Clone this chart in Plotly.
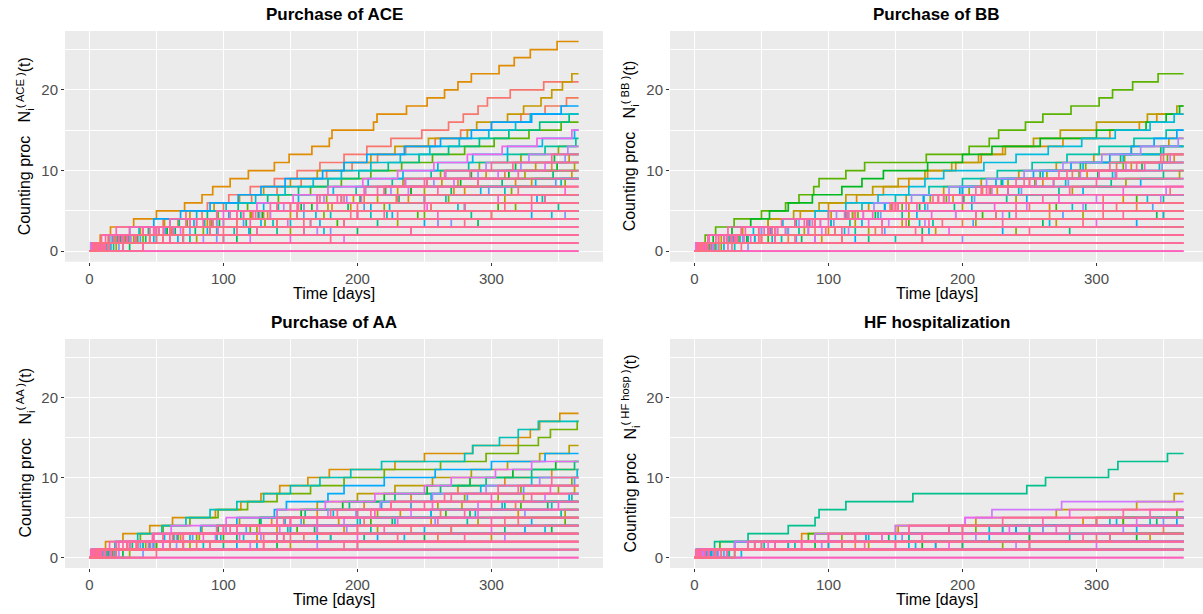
import math
import plotly.graph_objects as go

# ---------------- data ----------------
panel_titles = ["Purchase of ACE", "Purchase of BB", "Purchase of AA", "HF hospitalization"]
process_labels = ["ACE", "BB", "AA", "HF hosp"]
x_tick_vals = [0, 100, 200, 300]
y_tick_vals = [0, 10, 20]
follow_up_end = 365

# event times (days) for each individual, ACE purchases
ace_events = [
    [6, 22, 40, 55, 72, 88, 104, 120, 138, 155, 172, 190, 207, 225, 248, 268, 279, 290, 297, 314, 339],
    [10, 28, 45, 66, 84, 100, 121, 140, 158, 177, 196, 215, 236, 258, 277, 300, 322, 340, 356],
    [3, 30, 61, 95, 130, 170, 205, 240, 275, 310, 345],
    [1, 14, 48, 90, 133, 181, 229, 272, 318],
    [2, 8, 15.7, 33, 50, 71, 84, 92, 105, 118.6, 138, 149, 166, 179, 181, 212, 214.6, 236.6, 252, 265, 275, 285, 305.7, 317, 329, 349],
    [8, 35, 70, 110, 150, 195, 238, 280, 330, 360],
    [2, 19, 52, 88, 121, 160, 197, 230, 263, 296, 333, 358],
    [4, 20, 38, 56, 75, 93, 112, 130, 150, 170, 190, 210, 228, 253, 282, 289, 312, 324, 337, 345, 353, 360],
    [12, 45, 90, 140, 200, 255, 310],
    [5, 25, 60, 100, 135, 178, 215, 250, 290, 325, 362],
    [20, 80, 150, 230, 300],
    [7, 33, 62, 91, 120, 150, 177, 206, 234, 262, 291, 322, 350],
    [2, 40, 85, 131, 175, 220, 268, 315, 355],
    [15, 70, 125, 190, 250, 318],
    [9, 27, 50, 73, 96, 118, 141, 165, 188, 210, 233, 256, 280, 302, 328, 352],
    [4, 60, 120, 185, 245, 305],
    [1, 23, 58, 92, 129, 166, 202, 240, 277, 313, 349],
    [11, 36, 64, 97, 126, 158, 188, 221, 252, 285, 318, 347],
    [30, 110, 200, 290],
    [6, 42, 79, 117, 155, 193, 231, 270, 308, 346],
    [3, 21, 44, 67, 88, 111, 133, 156, 178, 201, 223, 246, 268, 291, 313, 336, 358],
    [18, 75, 140, 215, 285, 350],
    [8, 29, 57, 86, 113, 141, 170, 199, 226, 255, 283, 312, 340, 363],
    [2, 55, 108, 165, 222, 280, 338],
    [13, 50, 95, 137, 180, 224, 266, 310, 352],
    [5, 30, 90, 150, 210, 275, 340],
    [1, 17, 37, 60, 80, 102, 124, 146, 167, 188, 210, 232, 254, 276, 298, 318, 329],
    [25, 100, 175, 260, 345],
    [9, 48, 88, 128, 169, 210, 250, 292, 333],
    [4, 26, 52, 78, 104, 130, 156, 182, 208, 234, 260, 286, 312, 338, 362],
    [16, 66, 119, 172, 226, 280, 334],
    [7, 70, 160, 250, 330],
    [3, 15, 30, 48, 68, 90, 111, 128, 146, 174, 190, 207, 235, 262, 285, 300, 330, 352],
    [10, 38, 75, 115, 160, 205, 250, 298, 348],
    [22, 95, 180, 270, 355],
    [3, 31, 63, 95, 127, 160, 192, 225, 257, 290, 322, 355],
    [6, 85, 170, 260],
    [1, 28, 56, 85, 115, 145, 175, 206, 236, 266, 296, 328, 357],
    [14, 120, 240],
    [5, 35, 68, 100, 135, 170, 203, 238, 272, 305, 340],
    [40, 190],
    [2, 24, 49, 75, 100, 125, 152, 178, 204, 230, 257, 282, 308, 334, 360],
    [8, 150],
    [3, 45, 96, 148, 200, 252, 305, 355],
    [11],
    [4, 60, 125, 190, 260, 330],
    [],
    [7, 55, 110, 165, 220, 280, 340],
]
# individuals drawn last (pink end of the palette), ACE
ace_late = [
    [],
    [3],
    [5, 12],
    [2, 9, 20],
    [4, 15, 30, 120],
    [6, 18, 40, 60, 200],
    [3, 20, 45, 72, 95, 250],
    [8, 25, 50, 80, 110, 140, 230],
    [2, 22, 48, 75, 105, 135, 170, 260],
    [5, 28, 55, 85, 115, 150, 185, 215, 290],
    [7, 30, 60, 90, 122, 155, 190, 220, 250, 320],
    [3, 26, 52, 80, 110, 140, 172, 205, 235, 265, 300],
    [9, 34, 62, 92, 124, 156, 188, 220, 252, 284, 316, 345],
    [40],
    [15, 180],
    [25, 100, 240],
    [10, 70, 160, 280],
    [12, 55, 110, 190, 300],
    [6, 50, 100, 160, 230, 310],
    [14, 45, 90, 140, 195, 255, 330],
    [4, 35, 70, 110, 155, 200, 250, 320],
]

# BB purchases
bb_events = [
    [5, 40, 90, 140, 195, 250, 305, 355],
    [2, 25, 55, 85, 118, 150, 182, 215, 250, 282, 315, 350],
    [12, 70, 135, 200, 265, 330],
    [4, 30, 62, 94, 126, 160, 193, 226, 260, 293, 326, 358],
    [3, 18, 35, 55, 79, 100, 121, 141, 160, 174, 195, 214, 230, 275, 310, 332, 345],
    [8, 50, 100, 155, 210, 265, 320],
    [1, 22, 48, 75, 102, 130, 158, 186, 214, 242, 270, 298, 326, 354],
    [15, 95, 180, 270, 350],
    [6, 20, 36, 55, 74, 93, 113, 133, 152, 172, 192, 212, 232, 253, 273, 300, 338, 360],
    [10, 45, 82, 120, 160, 200, 240, 282, 322, 362],
    [3, 60, 130, 210, 290],
    [7, 33, 60, 90, 118, 147, 176, 205, 234, 263, 292, 321, 350],
    [20, 110, 240],
    [2, 28, 58, 90, 122, 155, 188, 221, 254, 287, 320, 353],
    [2, 8, 15.8, 29.6, 50, 68, 78, 89, 93, 113, 127, 173, 205, 220, 227, 247, 260, 281, 302, 312, 327, 346],
    [9, 55, 105, 160, 215, 270, 330],
    [4, 14, 28, 42, 56, 70, 88, 110, 125, 141, 174, 200, 222, 258, 300, 337, 352, 362],
    [11, 39, 70, 102, 135, 168, 201, 234, 268, 301, 334],
    [1, 80, 170, 260, 345],
    [6, 30, 57, 85, 113, 142, 171, 200, 229, 258, 288, 318, 348],
    [18, 130, 280],
    [3, 40, 78, 116, 155, 194, 233, 272, 311, 350],
    [13, 65, 120, 178, 235, 292, 350],
    [5, 26, 50, 76, 100, 125, 150, 175, 200, 226, 252, 278, 302, 328, 352],
    [30, 150],
    [2, 34, 68, 102, 137, 172, 207, 242, 277, 312, 347],
    [9, 58, 112, 168, 225, 282, 338],
    [4, 22, 44, 66, 90, 113, 137, 160, 172, 186, 216, 240, 264, 289, 314, 340, 358],
    [16, 90, 175, 265, 350],
    [1, 27, 55, 84, 113, 142, 171, 200, 230, 260, 290, 320, 350],
    [7, 45, 85, 125, 166, 207, 248, 290, 333],
    [22, 120, 230, 330],
    [3, 29, 57, 86, 115, 142, 171, 198, 225, 253, 281, 310, 326, 343, 360],
    [12, 76, 142, 208, 275, 342],
    [5, 36, 70, 104, 139, 174, 209, 244, 279, 314, 349],
    [40, 200],
    [2, 24, 50, 78, 106, 134, 162, 190, 218, 246, 275, 304, 333, 361],
    [9, 60, 115, 172, 230, 290, 348],
    [4, 48, 95, 145, 195, 248, 300, 352],
    [14],
    [1, 31, 62, 94, 126, 158, 190, 222, 255, 288, 322, 355],
    [6, 90, 190, 300],
    [3, 42, 85, 130, 177, 224, 272, 320],
    [],
    [8, 37, 68, 100, 133, 166, 200, 234, 268, 302, 336],
    [25, 170],
    [2, 50, 110, 175, 240, 305],
    [10, 60, 140, 230, 320],
]
bb_late = [
    [],
    [2],
    [4, 11],
    [3, 10, 25],
    [6, 18, 35, 140],
    [2, 16, 38, 65, 210],
    [5, 22, 48, 75, 100, 240],
    [3, 24, 52, 82, 112, 150, 260],
    [7, 27, 55, 85, 115, 148, 182, 280],
    [4, 30, 58, 88, 120, 152, 186, 220, 300],
    [2, 28, 58, 90, 120, 152, 186, 218, 250, 315],
    [6, 30, 56, 84, 114, 146, 178, 210, 240, 272, 330],
    [3, 32, 60, 90, 120, 150, 182, 214, 246, 278, 310, 348],
    [35],
    [18, 170],
    [28, 110, 250],
    [12, 75, 165, 290],
    [9, 50, 105, 185, 305],
    [5, 48, 98, 158, 225, 315],
]

# AA purchases
aa_events = [
    [7, 80, 160, 240, 320],
    [3, 45, 95, 150, 205, 262, 318],
    [15, 130, 260],
    [5, 35, 68, 102, 136, 170, 205, 240, 275, 310, 345],
    [2, 60, 125, 190, 255, 320],
    [3, 12, 25, 45, 62, 94, 113, 128, 142, 163, 179, 228, 250, 286, 320, 329, 336, 351],
    [9, 50, 95, 140, 186, 232, 278, 324, 362],
    [20, 150, 300],
    [4, 28, 55, 84, 112, 140, 170, 200, 228, 256, 285, 312, 336, 358],
    [11, 75, 145, 215, 290, 355],
    [1, 40, 82, 125, 170, 215, 260, 305, 350],
    [30, 200],
    [6, 42, 80, 120, 160, 200, 240, 280, 322, 360],
    [5, 20, 38, 55, 75, 96, 118, 140, 165, 190, 220, 262, 296, 320, 335, 344, 364],
    [13, 90, 180, 270, 355],
    [2, 50, 100, 155, 210, 266, 322],
    [8, 36, 66, 96, 127, 158, 189, 220, 252, 284, 316, 348],
    [25, 140, 250, 345],
    [4, 55, 110, 168, 226, 284, 342],
    [17],
    [3, 32, 63, 95, 128, 161, 194, 228, 262, 296, 330, 362],
    [10, 100, 205, 310],
    [6, 70, 140, 210, 282, 352],
    [1, 45, 95, 148, 200, 255, 310, 360],
    [4, 19, 36, 54, 72, 90, 110, 130, 150, 172, 195, 218, 280, 286, 306, 320, 335],
    [12, 60, 115, 170, 228, 288, 345],
    [2, 85, 180],
    [7, 40, 75, 110, 146, 182, 218, 255, 292, 330, 364],
    [19, 125, 235, 340],
    [3, 48, 98, 150, 202, 255, 308, 358],
    [9, 90, 170, 250, 330],
    [5, 30, 56, 83, 110, 138, 147, 178, 190, 220, 258, 300, 340],
    [14, 110, 215, 325],
    [2, 38, 77, 117, 158, 199, 240, 282, 324, 362],
    [40],
    [6, 65, 128, 192, 258, 325],
    [1, 30, 65, 102, 140, 178, 217, 256, 296, 336],
    [22, 170, 310],
    [4, 47, 94, 142, 190, 240, 290, 340],
    [11, 120],
    [3, 20, 48, 61, 102, 140, 176, 213, 250, 270, 303, 330],
    [8, 90, 200, 300],
    [2, 55, 112, 170, 230, 290, 350],
    [],
    [5, 44, 85, 127, 170, 213, 256, 300, 344],
    [16, 200],
    [1, 70, 145, 220, 300],
    [9, 130, 280],
]
aa_late = [
    [],
    [6],
    [3, 15],
    [8, 22, 140],
    [5, 20, 47, 200],
    [2, 25, 48, 110, 260],
    [7, 30, 55, 95, 150, 280],
    [4, 28, 60, 100, 150, 210, 300],
    [9, 35, 70, 110, 150, 200, 250, 330],
    [3, 30, 62, 100, 140, 180, 225, 270, 320],
    [6, 36, 70, 105, 145, 185, 225, 265, 305, 345],
    [50],
    [20, 190],
    [12, 90, 230],
    [5, 60, 150, 270],
    [18, 70, 130, 200, 310],
]

# HF hospitalizations
hf_events = [
    [4, 150, 300],
    [10, 120, 250, 350],
    [2, 200],
    [6, 60, 140, 230, 320],
    [12, 30, 80, 152, 290],
    [3, 100],
    [25, 180, 340],
    [5, 40, 90, 150, 210, 270, 330, 358],
    [8],
    [1, 70, 160, 260],
    [15, 130],
    [4, 50, 110, 200, 300],
    [7, 230],
    [2, 45, 120, 210, 300, 360],
    [20],
    [6, 19, 85, 190, 320],
    [11, 170, 330],
    [3, 90, 250],
    [30],
    [5, 60, 145, 240, 345],
    [13, 200],
    [3, 15, 40, 70, 90, 93, 113, 163, 248, 262, 309, 316, 353],
    [1, 110, 280],
    [8, 75, 160, 250, 340],
    [26],
    [4, 52, 130, 220, 310],
    [17, 160, 310],
    [2, 165],
    [9, 70, 150, 230, 315],
    [35],
    [5, 100, 220, 330],
    [12, 180],
    [3, 30, 128, 240, 360],
    [22, 250],
    [1, 60, 155, 260, 350],
    [14],
    [6, 95, 210, 320],
    [18, 240],
    [3, 30, 90, 150, 202, 222, 274],
    [10, 300],
    [2, 55, 140, 235, 330],
    [7, 40, 100, 160, 202, 280],
    [24, 190],
    [],
    [4, 80, 170, 270],
    [11],
    [1, 45, 120, 190, 260, 340],
    [16, 127, 290],
]
hf_late = [
    [],
    [4],
    [8, 150],
    [3, 60, 200],
    [10, 80, 170, 280],
    [5, 50, 120, 200, 300],
    [2, 40, 100, 160, 230, 320],
    [20],
    [30, 250],
    [15, 110, 310],
]

panel_events = [ace_events, bb_events, aa_events, hf_events]
panel_late = [ace_late, bb_late, aa_late, hf_late]


# ---------------- styling helpers ----------------
def hcl_hex(h, c=100.0, l=65.0):
    """ggplot2 hue_pal style colour (polar LUV -> sRGB)."""
    hr = math.radians(h)
    U, V = c * math.cos(hr), c * math.sin(hr)
    Xn, Yn, Zn = 95.047, 100.0, 108.883
    Y = Yn * ((l + 16) / 116) ** 3 if l > 8 else Yn * l / 903.3
    den = Xn + 15 * Yn + 3 * Zn
    un, vn = 4 * Xn / den, 9 * Yn / den
    u = U / (13 * l) + un
    v = V / (13 * l) + vn
    X = 9.0 * Y * u / (4 * v)
    Z = -X / 3 - 5 * Y + 3 * Y / v
    X, Y, Z = X / 100, Y / 100, Z / 100
    rgb = [3.240479 * X - 1.537150 * Y - 0.498535 * Z,
           -0.969256 * X + 1.875992 * Y + 0.041556 * Z,
           0.055648 * X - 0.204043 * Y + 1.057311 * Z]
    out = []
    for ch in rgb:
        ch = 12.92 * ch if ch <= 0.0031308 else 1.055 * ch ** (1 / 2.4) - 0.055
        out.append(int(round(max(0, min(1, ch)) * 255)))
    return "#%02X%02X%02X" % tuple(out)


W, H = 1203, 614
# panel boxes in pixels (left, right, top, bottom)
boxes = [(65, 603, 31, 261.7), (670, 1203, 31, 261.7),
         (65, 603, 339, 568), (670, 1203, 339, 568)]
x_ranges = [[-18.25, 383.25], [-18.25, 379.5], [-18.25, 383.25], [-18.25, 379.5]]
y_range = [-1.3, 27.3]
LW = 1.7

FONT = "Liberation Sans, Arial, sans-serif"
fig = go.Figure()
annotations = []
layout = {}


def add_step(ev, color, xa, ya):
    xs = [0] + list(ev) + [follow_up_end]
    ys = list(range(len(ev) + 1)) + [len(ev)]
    fig.add_trace(go.Scatter(
        x=xs, y=ys, mode="lines", line=dict(shape="hv", width=LW, color=color),
        xaxis=xa, yaxis=ya, showlegend=False, hoverinfo="skip"))


for p in range(4):
    events_list = panel_events[p]
    late_list = panel_late[p]
    n = len(events_list)
    m = len(late_list)
    xa = "x" if p == 0 else f"x{p+1}"
    ya = "y" if p == 0 else f"y{p+1}"
    for i, ev in enumerate(events_list):
        add_step(ev, hcl_hex(15.0 + 345.0 * i / n), xa, ya)
    for j, ev in enumerate(late_list):
        add_step(ev, hcl_hex(340.0 + 28.0 * j / m), xa, ya)

    l, r, t, b = boxes[p]
    xkey = "xaxis" if p == 0 else f"xaxis{p+1}"
    ykey = "yaxis" if p == 0 else f"yaxis{p+1}"
    common = dict(showgrid=True, gridcolor="white", gridwidth=1.4, zeroline=False,
                  showline=False, ticks="outside", ticklen=3, tickwidth=1,
                  tickcolor="#333333", tickfont=dict(family=FONT, size=15, color="#4D4D4D"),
                  fixedrange=True)
    layout[xkey] = dict(common, domain=[l / W, r / W], range=x_ranges[p], anchor=ya,
                        tickvals=x_tick_vals, ticktext=[str(v) for v in x_tick_vals],
                        minor=dict(dtick=50, tick0=0, showgrid=True, gridcolor="white",
                                   gridwidth=0.7, ticks=""))
    layout[ykey] = dict(common, domain=[1 - b / H, 1 - t / H], range=y_range, anchor=xa,
                        tickvals=y_tick_vals, ticktext=[str(v) for v in y_tick_vals],
                        minor=dict(dtick=5, tick0=0, showgrid=True, gridcolor="white",
                                   gridwidth=0.7, ticks=""))
    cx = (l + r) / 2 / W
    annotations.append(dict(text=f"<b>{panel_titles[p]}</b>", x=cx, y=1 - (t - 17) / H,
                            xref="paper", yref="paper", xanchor="center", yanchor="middle",
                            showarrow=False, font=dict(family=FONT, size=17, color="black")))
    annotations.append(dict(text="Time [days]", x=cx, y=1 - (b + 31.5) / H,
                            xref="paper", yref="paper", xanchor="center", yanchor="middle",
                            showarrow=False, font=dict(family=FONT, size=16, color="black")))
    annotations.append(dict(
        text=f"Counting proc&nbsp;&nbsp;&nbsp;N<sub>i</sub><sup>( {process_labels[p]} )</sup>(t)",
        x=(l - 40) / W, y=1 - (t + b) / 2 / H, xref="paper", yref="paper",
        xanchor="center", yanchor="middle", textangle=-90, showarrow=False,
        font=dict(family=FONT, size=16, color="black")))

fig.update_layout(
    width=W, height=H, margin=dict(l=0, r=0, t=0, b=0),
    paper_bgcolor="white", plot_bgcolor="#EBEBEB",
    annotations=annotations, **layout)

fig.write_html("out.html", config={"displayModeBar": False},
               post_script="document.body.style.margin='0';document.body.style.overflow='hidden';")
